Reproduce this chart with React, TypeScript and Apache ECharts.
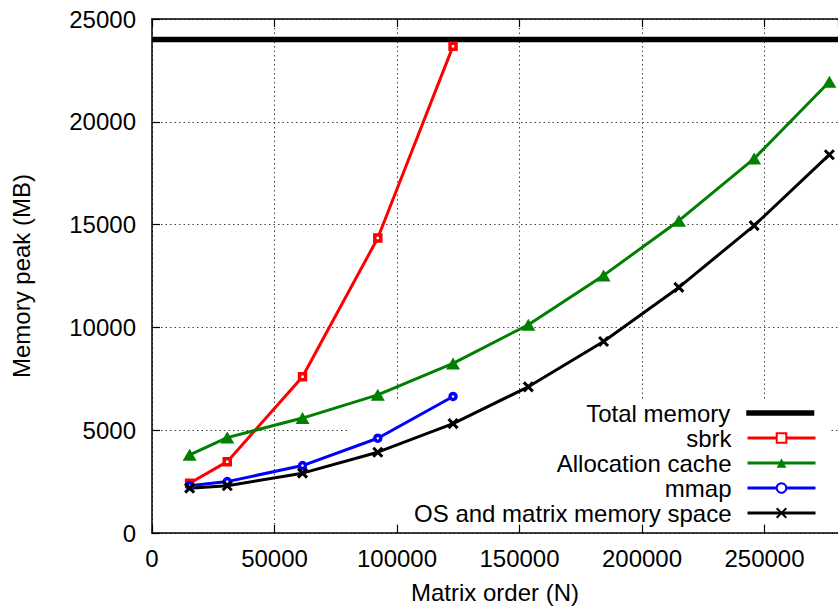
import React, { useEffect, useRef } from 'react';
import * as echarts from 'echarts';

const matrixOrder = [15360, 30720, 61440, 92160, 122880, 153600, 184320, 215040, 245760, 276480];
const totalMemoryValue = 24000;
const totalMemoryRange = [0, 280000];
const sbrkValues = [2420, 3470, 7600, 14350, 23680];
const allocationCacheValues = [3800, 4640, 5590, 6720, 8250, 10130, 12530, 15190, 18210, 21950];
const mmapValues = [2300, 2500, 3280, 4610, 6640];
const osMatrixValues = [2180, 2300, 2910, 3930, 5320, 7110, 9315, 11945, 14950, 18400];
const seriesNames = ['Total memory', 'sbrk', 'Allocation cache', 'mmap', 'OS and matrix memory space'];

const FONT = 'Liberation Sans, Arial, Helvetica, sans-serif';
const CROSS = 'path://M0,0L10,10M10,0L0,10';

const pairs = (vals: number[]) => vals.map((v, i) => [matrixOrder[i], v]);

export default function App() {
  const ref = useRef<HTMLDivElement>(null);
  useEffect(() => {
    if (!ref.current) return;
    const chart = echarts.init(ref.current, undefined, { renderer: 'svg' });
    const legendTops = [401, 426, 451, 476, 501];
    const legendLineWidths = [5.5, 3, 3, 3, 3];
    const legends = seriesNames.map((name, i) => ({
      data: [name],
      orient: 'vertical',
      right: 21,
      top: legendTops[i],
      padding: 0,
      align: 'right',
      itemWidth: 68,
      itemHeight: 12,
      selectedMode: false,
      lineStyle: { width: legendLineWidths[i] },
      ...(i === 0 ? { itemStyle: { opacity: 0 } } : {}),
      textStyle: { fontFamily: FONT, fontSize: 24, lineHeight: 24, color: '#000', padding: [0, 11, 0, 0] },
    }));
    const axisFont = { fontFamily: FONT, fontSize: 24, color: '#000' };
    const plain = (v: number) => String(v);
    chart.setOption({
      animation: false,
      grid: { left: 152, top: 19, bottom: 77, right: -7 },
      legend: legends,
      graphic: [
        {
          type: 'rect',
          shape: { x: 350, y: 401, width: 480, height: 123 },
          style: { fill: '#fff' },
          z: 1,
          silent: true,
        },
      ],
      xAxis: [
        {
          type: 'value',
          min: 0,
          max: 280000,
          interval: 50000,
          name: 'Matrix order (N)',
          nameLocation: 'middle',
          nameGap: 47,
          nameTextStyle: { ...axisFont, lineHeight: 24 },
          axisLine: { show: true, lineStyle: { color: '#000', width: 1.5 } },
          axisTick: { show: true, inside: true, length: 8, lineStyle: { color: '#000', width: 1.2 } },
          axisLabel: { ...axisFont, margin: 13, showMaxLabel: false, formatter: plain },
          splitLine: { show: true, lineStyle: { type: [1.5, 3], color: '#444', width: 1 } },
        },
        {
          type: 'value',
          position: 'top',
          min: 0,
          max: 280000,
          interval: 50000,
          axisLine: { show: true, lineStyle: { color: '#000', width: 1.5 } },
          axisTick: { show: true, inside: true, length: 8, lineStyle: { color: '#000', width: 1.2 } },
          axisLabel: { show: false },
          splitLine: { show: false },
        },
      ],
      yAxis: {
        type: 'value',
        min: 0,
        max: 25000,
        interval: 5000,
        name: 'Memory peak (MB)',
        nameLocation: 'middle',
        nameGap: 119,
        nameRotate: 90,
        nameTextStyle: { ...axisFont, lineHeight: 24 },
        axisLine: { show: true, lineStyle: { color: '#000', width: 1.5 } },
        axisTick: { show: true, inside: true, length: 8, lineStyle: { color: '#000', width: 1.2 } },
        axisLabel: { ...axisFont, margin: 16, formatter: plain },
        splitLine: { show: true, lineStyle: { type: [1.5, 3], color: '#444', width: 1 } },
      },
      series: [
        {
          name: seriesNames[0],
          type: 'line',
          data: totalMemoryRange.map((x) => [x, totalMemoryValue]),
          symbol: 'none',
          lineStyle: { color: '#000', width: 5.5 },
          itemStyle: { color: '#000' },
          z: 2,
        },
        {
          name: seriesNames[1],
          type: 'line',
          data: pairs(sbrkValues),
          symbol: 'rect',
          symbolSize: 6,
          lineStyle: { color: '#ff0000', width: 3 },
          itemStyle: { color: '#fff', borderColor: '#ff0000', borderWidth: 3.5 },
          z: 3,
        },
        {
          name: seriesNames[2],
          type: 'line',
          data: pairs(allocationCacheValues),
          symbol: 'triangle',
          symbolSize: [14, 12],
          lineStyle: { color: '#008000', width: 3 },
          itemStyle: { color: '#008000', borderColor: '#008000', borderWidth: 0 },
          z: 3,
        },
        {
          name: seriesNames[3],
          type: 'line',
          data: pairs(mmapValues),
          symbol: 'circle',
          symbolSize: 6,
          lineStyle: { color: '#0000ff', width: 3 },
          itemStyle: { color: '#fff', borderColor: '#0000ff', borderWidth: 3.5 },
          z: 3,
        },
        {
          name: seriesNames[4],
          type: 'line',
          data: pairs(osMatrixValues),
          symbol: CROSS,
          symbolSize: 9,
          lineStyle: { color: '#000', width: 3 },
          itemStyle: { color: '#000', borderColor: '#000', borderWidth: 3 },
          z: 3,
        },
      ],
    });
    return () => chart.dispose();
  }, []);
  return (
    <div
      ref={ref}
      style={{ position: 'fixed', left: 0, top: 0, width: 838, height: 610, background: '#fff' }}
    />
  );
}
